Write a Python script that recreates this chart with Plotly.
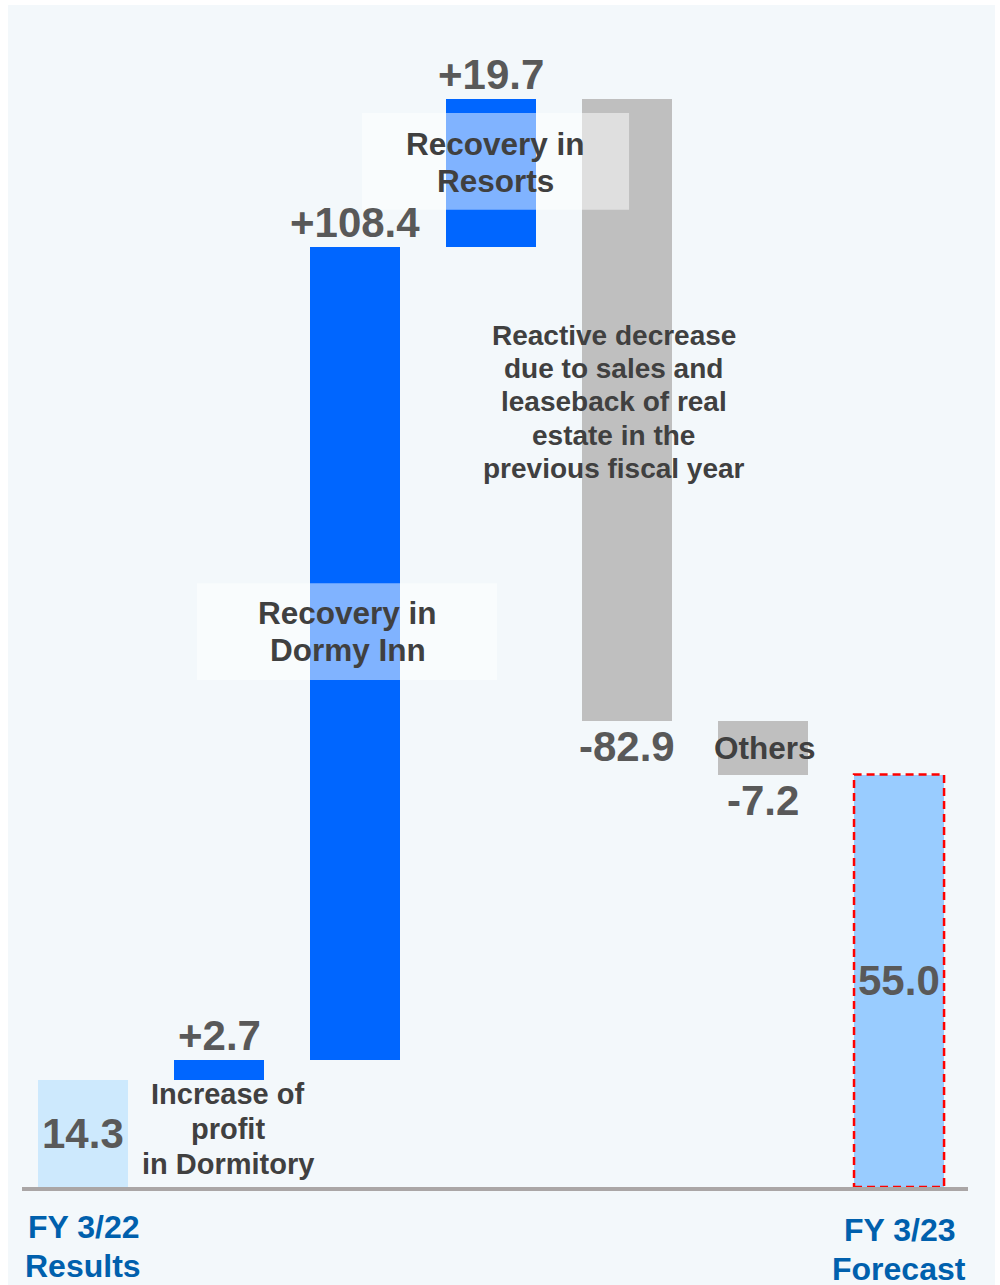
import plotly.graph_objects as go

# ---------------- data ----------------
categories = ["FY 3/22<br>Results", "", "", "", "", "", "FY 3/23<br>Forecast"]
values = [14.3, 2.7, 108.4, 19.7, -82.9, -7.2, 55.0]
measures = ["total", "relative", "relative", "relative", "relative", "relative", "total"]
value_labels = ["14.3", "+2.7", "+108.4", "+19.7", "-82.9", "-7.2", "55.0"]
bar_colors = ["#cde9fd", "#0066ff", "#0066ff", "#0066ff", "#bfbfbf", "#bfbfbf", "#99ccff"]

note_texts = [
    "Recovery in<br>Resorts",
    "Recovery in<br>Dormy Inn",
    "Reactive decrease<br>due to sales and<br>leaseback of real<br>estate in the<br>previous fiscal year",
    "Others",
    "Increase of<br>profit<br>in Dormitory",
]
note_x = [3.033, 1.945, 3.904, 5.015, 1.066]
note_y = [136.6, 74.07, 104.7, 58.5, 7.75]
note_size = [31.5, 31.5, 28, 31.5, 29]
note_spacing = [37, 37, 33.3, 37, 35]
# translucent boxes behind the two "Recovery" notes: (x0, x1, y0, y1)
note_boxes = [(2.051, 4.015, 130.3, 143.2), (0.838, 3.044, 67.6, 80.5)]
# extra vertical offset (px) of each category label
category_offsets = [0, 0, 0, 0, 0, 0, -3]

# ---------------- geometry helpers ----------------
xs = list(range(len(values)))
bases, heights = [], []
running = 0.0
for v, m in zip(values, measures):
    if m == "total":
        bases.append(0.0)
        heights.append(v)
        running = v
    else:
        bases.append(running)
        heights.append(v)
        running += v

BAR_W = 0.662
FONT = "Liberation Sans, Arial, sans-serif"

fig = go.Figure()
fig.add_trace(go.Bar(
    x=xs, y=heights, base=bases, width=BAR_W,
    marker=dict(color=bar_colors, line=dict(width=0)),
    hoverinfo="skip", showlegend=False,
))

# dashed outline on the forecast bar
last = len(values) - 1
fig.add_shape(type="rect", xref="x", yref="y",
              x0=last - BAR_W / 2, x1=last + BAR_W / 2,
              y0=bases[last], y1=bases[last] + heights[last],
              line=dict(color="#ff0000", width=2.5, dash="8px,5px"),
              fillcolor="rgba(0,0,0,0)")

# panel background
fig.add_shape(type="rect", xref="paper", yref="paper",
              x0=-0.0148, x1=1.0285, y0=-0.09, y1=1.0,
              fillcolor="#f3f8fb", line=dict(width=0), layer="below")

# translucent note boxes
for x0, x1, y0, y1 in note_boxes:
    fig.add_shape(type="rect", xref="x", yref="y", x0=x0, x1=x1, y0=y0, y1=y1,
                  fillcolor="rgba(255,255,255,0.5)", line=dict(width=0), layer="above")

# value labels
for i, (lab, m) in enumerate(zip(value_labels, measures)):
    b, h = bases[i], heights[i]
    if m == "total":
        y, shift = b + h / 2, 0
    elif h >= 0:
        y, shift = b + h, 24
    else:
        y, shift = b + h, -26
    fig.add_annotation(x=i, y=y, yshift=shift, text=lab, showarrow=False,
                       xanchor="center", yanchor="middle",
                       font=dict(family=FONT, size=42, color="#595959", weight="bold"))

# text notes, line by line for tight spacing
for text, x, y, size, sp in zip(note_texts, note_x, note_y, note_size, note_spacing):
    lines = text.split("<br>")
    n = len(lines)
    for k, line in enumerate(lines):
        fig.add_annotation(x=x, y=y, yshift=((n - 1) / 2 - k) * sp, text=line,
                           showarrow=False, xanchor="center", yanchor="middle",
                           font=dict(family=FONT, size=size, color="#404040", weight="bold"))

# category labels under the axis
for i, cat in enumerate(categories):
    if not cat:
        continue
    for k, line in enumerate(cat.split("<br>")):
        fig.add_annotation(x=i, xref="x", y=0, yref="paper",
                           yshift=-40 - 39 * k + category_offsets[i],
                           text=line, showarrow=False, xanchor="center", yanchor="middle",
                           font=dict(family=FONT, size=32, color="#0060ad", weight="bold"))

fig.update_layout(
    width=1000, height=1285,
    margin=dict(l=22, r=32, t=5, b=98),
    paper_bgcolor="white",
    plot_bgcolor="rgba(0,0,0,0)",
    bargap=0,
    xaxis=dict(range=[-0.4485, 6.507], showgrid=False, zeroline=False,
               showline=True, linecolor="#aaa6a6", linewidth=4,
               showticklabels=False, ticks="", fixedrange=True),
    yaxis=dict(range=[0, 157.6], visible=False, fixedrange=True),
)

fig.write_html("out.html")
